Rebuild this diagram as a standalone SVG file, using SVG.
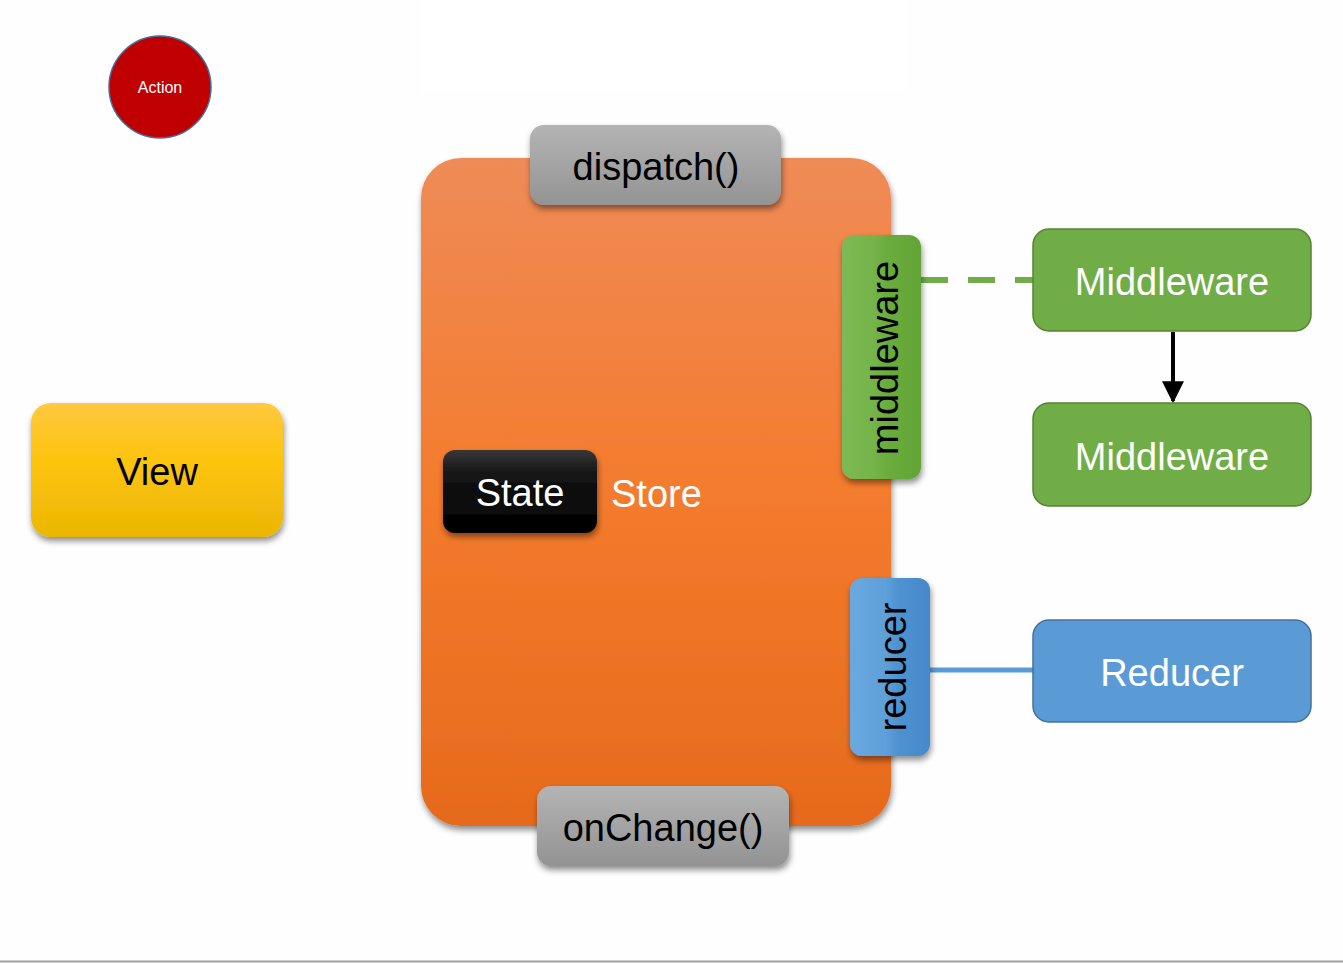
<svg xmlns="http://www.w3.org/2000/svg" width="1343" height="963" viewBox="0 0 1343 963">
<defs>
<style>
.t{font-family:"Liberation Sans",Arial,sans-serif;}
.big{font-size:38px;}
.wh{fill:#ffffff;}
.bk{fill:#000000;}
.mw{fill:#70ad47;stroke:#548235;stroke-width:1.5;}
.rd{fill:#5b9bd5;stroke:#41719c;stroke-width:1.5;}
</style>
<linearGradient id="gStore" x1="0" y1="0" x2="0" y2="1">
<stop offset="0" stop-color="#ef8b57"/>
<stop offset="0.5" stop-color="#f47b2d"/>
<stop offset="1" stop-color="#e66a1c"/>
</linearGradient>
<linearGradient id="gGray" x1="0" y1="0" x2="0" y2="1">
<stop offset="0" stop-color="#b4b4b4"/>
<stop offset="1" stop-color="#939393"/>
</linearGradient>
<linearGradient id="gView" x1="0" y1="0" x2="0" y2="1">
<stop offset="0" stop-color="#ffc840"/>
<stop offset="0.45" stop-color="#fdc40a"/>
<stop offset="1" stop-color="#ebb605"/>
</linearGradient>
<linearGradient id="gState" x1="0" y1="0" x2="0" y2="1">
<stop offset="0" stop-color="#383838"/>
<stop offset="0.3" stop-color="#141414"/>
<stop offset="1" stop-color="#000000"/>
</linearGradient>
<linearGradient id="gMwTab" x1="0" y1="0" x2="1" y2="0">
<stop offset="0" stop-color="#7db955"/>
<stop offset="0.4" stop-color="#74b44a"/>
<stop offset="0.6" stop-color="#6aab3c"/>
<stop offset="1" stop-color="#62a535"/>
</linearGradient>
<linearGradient id="gRdTab" x1="0" y1="0" x2="1" y2="0">
<stop offset="0" stop-color="#6aa8df"/>
<stop offset="0.45" stop-color="#5e9fda"/>
<stop offset="0.6" stop-color="#4f92d0"/>
<stop offset="1" stop-color="#4589cb"/>
</linearGradient>
<filter id="sh" x="-10%" y="-10%" width="125%" height="130%">
<feGaussianBlur in="SourceAlpha" stdDeviation="3"/>
<feOffset dx="1" dy="4" result="b"/>
<feComponentTransfer><feFuncA type="linear" slope="0.45"/></feComponentTransfer>
<feMerge><feMergeNode/><feMergeNode in="SourceGraphic"/></feMerge>
</filter>
<marker id="arr" viewBox="0 0 10 10" refX="9" refY="5" markerWidth="5.5" markerHeight="5.5" orient="auto" markerUnits="strokeWidth">
<path d="M0,0 L10,5 L0,10 z" fill="#000"/>
</marker>
</defs>
<rect x="0" y="0" width="1343" height="963" fill="#fefefe"/>
<rect x="420" y="0" width="485" height="92" fill="#ffffff"/>
<line x1="0" y1="961.5" x2="1343" y2="961.5" stroke="#a0a0a0" stroke-width="2"/>

<g id="connectors">
<line x1="921" y1="280" x2="1033" y2="280" stroke="#70ad47" stroke-width="6" stroke-dasharray="27,20"/>
<line x1="930" y1="670" x2="1033" y2="670" stroke="#5b9bd5" stroke-width="5"/>
<line x1="1173" y1="332" x2="1173" y2="401" stroke="#000" stroke-width="4" marker-end="url(#arr)"/>
</g>

<g id="action">
<circle cx="160" cy="87" r="51" fill="#c00000" stroke="#41719c" stroke-width="1.5"/>
<text class="t wh" x="160" y="93" font-size="16" text-anchor="middle">Action</text>
</g>

<g id="view">
<rect x="31" y="403" width="252" height="134" rx="20" fill="url(#gView)" filter="url(#sh)"/>
<text class="t big bk" x="157" y="485" text-anchor="middle">View</text>
</g>

<g id="store">
<rect x="421" y="158" width="470" height="668" rx="40" fill="url(#gStore)" filter="url(#sh)"/>
<text class="t big wh" x="611" y="507">Store</text>
</g>

<g id="dispatch">
<rect x="530" y="125" width="251" height="80" rx="14" fill="url(#gGray)" filter="url(#sh)"/>
<text class="t big bk" x="656" y="180" text-anchor="middle">dispatch()</text>
</g>

<g id="onchange">
<rect x="537" y="786" width="252" height="80" rx="14" fill="url(#gGray)" filter="url(#sh)"/>
<text class="t big bk" x="663" y="841" text-anchor="middle">onChange()</text>
</g>

<g id="state">
<rect x="443" y="450" width="154" height="83" rx="12" fill="url(#gState)" filter="url(#sh)"/>
<text class="t big wh" x="520" y="506" text-anchor="middle">State</text>
</g>

<g id="middleware-tab">
<rect x="842" y="235" width="79" height="244" rx="12" fill="url(#gMwTab)" filter="url(#sh)"/>
<text class="t big bk" transform="translate(898,358) rotate(-90)" text-anchor="middle">middleware</text>
</g>

<g id="reducer-tab">
<rect x="850" y="578" width="80" height="178" rx="12" fill="url(#gRdTab)" filter="url(#sh)"/>
<text class="t big bk" transform="translate(906,667) rotate(-90)" text-anchor="middle">reducer</text>
</g>

<g id="middleware1">
<rect class="mw" x="1033" y="229" width="278" height="102" rx="16"/>
<text class="t big wh" x="1172" y="295" text-anchor="middle">Middleware</text>
</g>

<g id="middleware2">
<rect class="mw" x="1033" y="403" width="278" height="103" rx="16"/>
<text class="t big wh" x="1172" y="470" text-anchor="middle">Middleware</text>
</g>

<g id="reducer">
<rect class="rd" x="1033" y="620" width="278" height="102" rx="16"/>
<text class="t big wh" x="1172" y="686" text-anchor="middle">Reducer</text>
</g>
</svg>
